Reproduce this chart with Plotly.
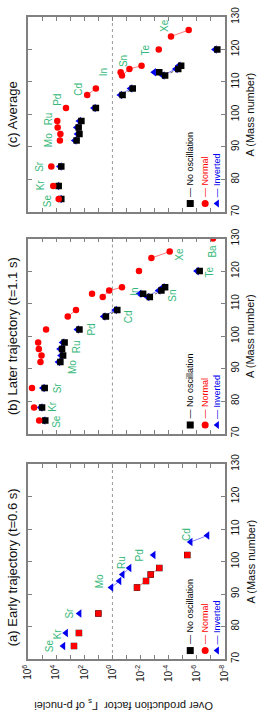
import plotly.graph_objects as go
import math

# ---------------- data ----------------
MASS = [74, 78, 84, 92, 94, 96, 98, 102, 106, 108, 112, 113, 114, 115, 120, 124, 126, 130]
ELEMENT = ["Se", "Kr", "Sr", "Mo", "Mo", "Ru", "Ru", "Pd", "Cd", "Cd",
           "Sn", "In", "Sn", "Sn", "Te", "Xe", "Xe", "Ba"]

# (a) Early trajectory (t=0.6 s)
EARLY_NOOSC = [5.4e2, 2.4e2, 1.0e1, 1.8e-2, 4.1e-3, 1.9e-3, 4.7e-4, 4.8e-6,
               None, None, None, None, None, None, None, None, None, None]
EARLY_NORMAL = [5.4e2, 2.4e2, 1.0e1, 1.8e-2, 4.1e-3, 1.9e-3, 4.7e-4, 4.8e-6,
                None, None, None, None, None, None, None, None, None, None]
EARLY_INVERTED = [3.1e3, 2.0e3, 2.2e2, 1.2e0, 3.2e-1, 1.9e-1, 6.2e-2, 1.2e-3,
                  2.8e-6, 1.8e-7, None, None, None, None, None, None, None, None]

# (b) Later trajectory (t=1.1 s)
LATER_NOOSC = [5.9e4, 1.0e5, 6.5e4, 5.0e3, 3.2e3, 3.8e3, 2.5e3, 2.2e2, 2.9e0, 4.5e-1,
               2.2e-3, 6.6e-3, 3.3e-4, 1.8e-4, 6.3e-7, None, None, None]
LATER_NORMAL = [1.6e5, 3.7e5, 5.2e5, 1.3e5, 1.1e5, 1.7e5, 1.9e5, 5.2e4, 1.5e3, 3.9e2,
                4.9e0, 2.8e1, 1.7e0, 2.1e-1, 1.3e-2, 1.7e-3, 8.5e-5, 7.1e-8]
LATER_INVERTED = [8.0e4, 1.3e5, 9.0e4, 7.0e3, 4.6e3, 5.4e3, 3.6e3, 3.2e2, 4.3e0, 6.6e-1,
                  3.3e-3, 1.2e-2, 5.3e-4, 2.7e-4, 1.0e-6, None, None, None]

# (c) Average
AVG_NOOSC = [4.3e3, 6.6e3, 4.3e3, 3.5e2, 2.2e2, 2.5e2, 1.6e2, 1.5e1, 1.9e-1, 3.6e-2,
             1.8e-4, 4.7e-4, 2.1e-5, 1.3e-5, 3.5e-8, None, None, None]
AVG_NORMAL = [6.6e3, 1.6e4, 2.2e4, 5.4e3, 5.0e3, 7.8e3, 8.3e3, 2.0e3, 6.2e1, 1.5e1,
              2.1e-1, 2.6e-1, 6.2e-2, 8.5e-3, 5.1e-4, 6.9e-5, 3.8e-6, None]
AVG_INVERTED = [5.6e3, 8.3e3, 5.6e3, 4.9e2, 3.1e2, 3.5e2, 2.3e2, 2.1e1, 2.8e-1, 5.3e-2,
                2.7e-4, 1.1e-3, 3.2e-5, 2.0e-5, 5.3e-8, None, None, None]

# element labels: text, overproduction factor position, mass position
EARLY_LABELS = ["Se", "Kr", "Sr", "Mo", "Ru", "Pd", "Cd"]
EARLY_LABEL_F = [2.8e4, 8.7e3, 1.2e3, 9.0e0, 2.5e-1, 1.2e-2, 5.0e-6]
EARLY_LABEL_A = [74.2, 77.9, 84.0, 93.9, 99.8, 102.0, 108.2]

LATER_LABELS = ["Se", "Kr", "Sr", "Mo", "Ru", "Pd", "Cd", "In", "Sn", "Te", "Xe", "Ba"]
LATER_LABEL_F = [8.7e3, 1.7e4, 8.7e3, 7.6e2, 3.4e2, 3.3e1, 7.8e-2, 2.5e-2, 5.0e-5, 1.2e-7, 1.6e-5, 8.3e-8]
LATER_LABEL_A = [73.9, 78.5, 84.2, 90.4, 96.8, 102.0, 105.8, 113.6, 112.4, 119.8, 125.3, 126.0]

AVG_LABELS = ["Se", "Kr", "Sr", "Mo", "Ru", "Pd", "Cd", "In", "Sn", "Te", "Xe"]
AVG_LABEL_F = [4.5e4, 1.4e5, 1.4e5, 3.8e4, 3.8e4, 7.4e3, 2.4e2, 4.7e0, 1.8e-1, 4.8e-3, 1.8e-4]
AVG_LABEL_A = [73.6, 78.2, 83.9, 92.1, 98.8, 104.5, 107.9, 113.0, 116.4, 119.7, 127.3]

TITLES = ["(a) Early trajectory (t=0.6 s)", "(b) Later trajectory (t=1.1 s)", "(c) Average"]
SERIES_NAMES = ["No oscillation", "Normal", "Inverted"]
X_MAJOR_EXP = [6, 4, 2, 0, -2, -4, -6, -8]
X_MINOR_EXP = [5, 3, 1, -1, -3, -5, -7]
A_TICKS = [70, 80, 90, 100, 110, 120, 130]
REF_LEVEL = 1.0

# ---------------- style ----------------
FONT = "Liberation Sans, Arial, sans-serif"
GREEN = "#35b87a"
RED = "#ff0000"
BLUE = "#0000ee"
FRAME = "#808080"

# panel domains (paper fraction, bottom to top)
DOMAINS = [[0.0, 0.3037], [0.3512, 0.6549], [0.6963, 1.0]]

panels = [
    dict(noosc=EARLY_NOOSC, normal=EARLY_NORMAL, inv=EARLY_INVERTED,
         labels=(EARLY_LABELS, EARLY_LABEL_F, EARLY_LABEL_A), normal_symbol="square", title_y=0.143),
    dict(noosc=LATER_NOOSC, normal=LATER_NORMAL, inv=LATER_INVERTED,
         labels=(LATER_LABELS, LATER_LABEL_F, LATER_LABEL_A), normal_symbol="circle", title_y=None),
    dict(noosc=AVG_NOOSC, normal=AVG_NORMAL, inv=AVG_INVERTED,
         labels=(AVG_LABELS, AVG_LABEL_F, AVG_LABEL_A), normal_symbol="circle", title_y=None),
]


def element_lines(values):
    xs, ys = [], []
    seen = []
    for el in ELEMENT:
        if el in seen:
            continue
        seen.append(el)
        pts = [(v, a) for v, a, e in zip(values, MASS, ELEMENT) if e == el and v is not None]
        if len(pts) >= 2:
            for v, a in pts:
                xs.append(v)
                ys.append(a)
            xs.append(None)
            ys.append(None)
    return xs, ys


fig = go.Figure()
annotations = []

for i, p in enumerate(panels):
    sx = "" if i == 0 else str(i + 1)
    xa, ya = "x" + sx, "y" + sx
    dom = DOMAINS[i]

    # reference dotted line at 10^0
    fig.add_trace(go.Scatter(x=[REF_LEVEL, REF_LEVEL], y=[A_TICKS[0], A_TICKS[-1]], mode="lines",
                             line=dict(color="#9a9a9a", width=1, dash="dot"),
                             xaxis=xa, yaxis=ya, showlegend=False, hoverinfo="skip"))

    # connecting lines
    for key, col, dash in [("noosc", "#555555", "dot"), ("inv", "#8080ff", "solid"), ("normal", "#ff7a7a", "solid")]:
        lx, ly = element_lines(p[key])
        if lx:
            fig.add_trace(go.Scatter(x=lx, y=ly, mode="lines", line=dict(color=col, width=1, dash=dash),
                                     xaxis=xa, yaxis=ya, showlegend=False, hoverinfo="skip"))

    # markers: inverted, no oscillation, normal
    fig.add_trace(go.Scatter(x=p["inv"], y=MASS, mode="markers",
                             marker=dict(symbol="triangle-left", size=7.5, color=BLUE, line=dict(width=0)),
                             xaxis=xa, yaxis=ya, showlegend=False))
    fig.add_trace(go.Scatter(x=p["noosc"], y=MASS, mode="markers",
                             marker=dict(symbol="square", size=6.5, color="#000000", line=dict(width=0)),
                             xaxis=xa, yaxis=ya, showlegend=False))
    fig.add_trace(go.Scatter(x=p["normal"], y=MASS, mode="markers",
                             marker=dict(symbol=p["normal_symbol"], size=6 if p["normal_symbol"] == "square" else 6.5,
                                         color=RED, line=dict(width=0)),
                             xaxis=xa, yaxis=ya, showlegend=False))

    # legend (inside panel, bottom right)
    leg_x = [10 ** -5.53, 10 ** -6.59, 10 ** -7.44]
    leg_sym = ["square", "circle", "triangle-left"]
    leg_col = ["#000000", RED, BLUE]
    for lx, sym, col, name in zip(leg_x, leg_sym, leg_col, SERIES_NAMES):
        fig.add_trace(go.Scatter(x=[lx], y=[72.6], mode="markers",
                                 marker=dict(symbol=sym, size=7, color=col),
                                 xaxis=xa, yaxis=ya, showlegend=False, hoverinfo="skip"))
        annotations.append(dict(x=math.log10(lx), y=73.9, xref=xa, yref=ya, text="\u2014 " + name,
                                textangle=-90, showarrow=False, xanchor="center", yanchor="bottom",
                                font=dict(family=FONT, size=9, color=col)))

    # element labels
    labs, lf, la = p["labels"]
    for t, f, a in zip(labs, lf, la):
        annotations.append(dict(x=math.log10(f), y=a, xref=xa, yref=ya, text=t, textangle=-90,
                                showarrow=False, xanchor="center", yanchor="middle",
                                font=dict(family=FONT, size=10, color=GREEN)))

    # panel title and mass-axis title
    cy = (dom[0] + dom[1]) / 2
    annotations.append(dict(x=-0.081, y=p["title_y"] if p["title_y"] else cy, xref="paper", yref="paper",
                            text=TITLES[i], textangle=-90, showarrow=False, xanchor="center", yanchor="middle",
                            font=dict(family=FONT, size=13, color="#111111")))
    annotations.append(dict(x=1.127, y=cy, xref="paper", yref="paper", text="A (Mass number)",
                            textangle=-90, showarrow=False, xanchor="center", yanchor="middle",
                            font=dict(family=FONT, size=11, color="#111111")))

    fig.layout["xaxis" + sx] = dict(
        type="log", range=[6, -8], domain=[0, 1], anchor=ya,
        tickvals=[10 ** k for k in X_MAJOR_EXP],
        ticktext=["10<sup>%d</sup>" % k for k in X_MAJOR_EXP],
        minor=dict(tickvals=[10 ** k for k in X_MINOR_EXP], ticks="inside", ticklen=4, tickcolor=FRAME),
        tickangle=-90, showticklabels=(i == 0), ticks="inside", ticklen=4, tickcolor=FRAME,
        showline=True, linecolor=FRAME, linewidth=1.5, mirror="allticks",
        showgrid=False, zeroline=False, tickfont=dict(family=FONT, size=10, color="#111111"))
    fig.layout["yaxis" + sx] = dict(
        range=[A_TICKS[0], A_TICKS[-1]], domain=dom, anchor=xa, side="right",
        tickvals=A_TICKS, tickangle=-90, ticks="inside", ticklen=4, tickcolor=FRAME,
        showline=True, linecolor=FRAME, linewidth=1.5, mirror="allticks",
        showgrid=False, zeroline=False, tickfont=dict(family=FONT, size=10, color="#111111"))

annotations.append(dict(x=0.482, y=-0.0706, xref="paper", yref="paper",
                        text="Over production factor  \u0393<sub>s</sub> of p-nuclei", textangle=180,
                        showarrow=False, xanchor="center", yanchor="middle",
                        font=dict(family=FONT, size=11, color="#111111")))

fig.update_layout(width=263, height=715, margin=dict(l=28, r=38, t=7, b=56),
                  paper_bgcolor="white", plot_bgcolor="white", showlegend=False,
                  annotations=annotations, font=dict(family=FONT))

# remove the default page margin so the figure fills the 263x715 window exactly
fig.write_html("out.html", config={"displayModeBar": False},
               post_script="document.body.style.margin='0';")
